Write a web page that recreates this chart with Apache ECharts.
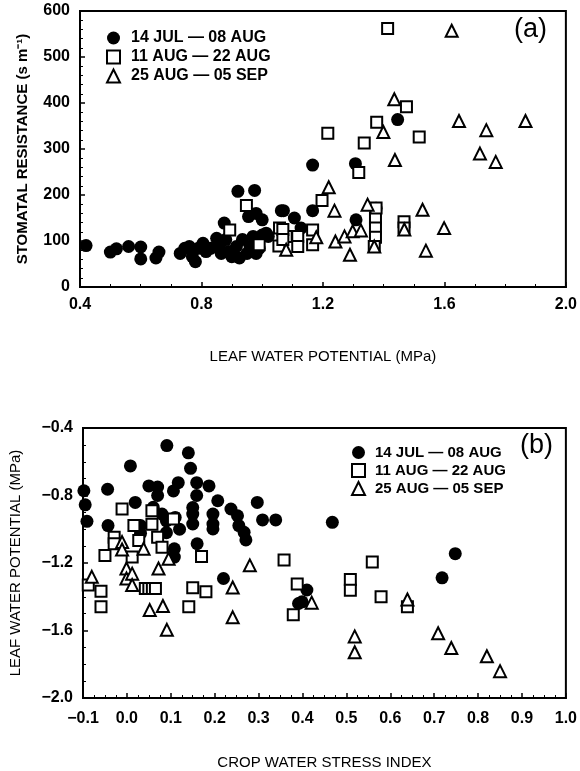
<!DOCTYPE html>
<html>
<head>
<meta charset="utf-8">
<script src="https://cdn.jsdelivr.net/npm/echarts@6/dist/echarts.min.js"></script>
<style>
	html, body { margin: 0; padding: 0; background: #fff; }
	#chart { width: 580px; height: 771px; }
</style>
</head>
<body>
<div id="chart"></div>
<script>
// series names (legend)
var names = ['14 JUL — 08 AUG', '11 AUG — 22 AUG', '25 AUG — 05 SEP'];

// panel (a): leaf water potential (MPa) vs stomatal resistance (s m-1)
var aJul = [
	[0.42, 90], [0.50, 76], [0.52, 83], [0.56, 88], [0.60, 87], [0.60, 61], [0.65, 63], [0.66, 76],
	[0.73, 73], [0.745, 84], [0.76, 88], [0.77, 66], [0.78, 55], [0.79, 84], [0.805, 95], [0.815, 77],
	[0.83, 84], [0.85, 106], [0.86, 92], [0.865, 73], [0.88, 103], [0.89, 77], [0.90, 66], [0.915, 88],
	[0.925, 63], [0.935, 103], [0.95, 73], [0.96, 88], [0.97, 110], [0.98, 73], [0.99, 84], [1.0, 113],
	[1.02, 110], [0.875, 139], [0.92, 208], [0.975, 210], [0.955, 153], [0.98, 160], [1.0, 146],
	[1.063, 166], [1.106, 150], [1.013, 117], [1.128, 128], [1.07, 166], [1.166, 166], [1.166, 265],
	[1.307, 268], [1.309, 146], [1.375, 171], [1.446, 364]
];
var aAug = [
	[0.893, 124], [0.948, 177], [0.99, 92], [1.057, 128], [1.055, 89], [1.079, 110], [1.068, 125],
	[1.068, 103], [1.117, 110], [1.117, 88], [1.166, 124], [1.166, 92], [1.197, 188], [1.216, 334],
	[1.318, 249], [1.336, 313], [1.377, 358], [1.413, 562], [1.475, 392], [1.517, 326], [1.373, 150],
	[1.373, 128], [1.373, 108], [1.369, 88], [1.375, 172], [1.467, 142], [1.467, 128]
];
var aSep = [
	[1.079, 81], [1.178, 108], [1.219, 217], [1.238, 166], [1.241, 99], [1.271, 110], [1.289, 70],
	[1.298, 121], [1.325, 123], [1.347, 179], [1.369, 88], [1.399, 337], [1.435, 408], [1.437, 276],
	[1.468, 125], [1.528, 168], [1.539, 79], [1.599, 128], [1.624, 557], [1.648, 361], [1.717, 290],
	[1.738, 341], [1.769, 272], [1.867, 361]
];

// panel (b): crop water stress index vs leaf water potential (MPa)
var bJul = [
	[-0.098, -0.772], [-0.095, -0.855], [-0.091, -0.953], [-0.044, -0.763], [-0.043, -0.978],
	[0.008, -0.625], [0.019, -0.841], [0.031, -0.978], [0.031, -1.024], [0.05, -0.743], [0.07, -0.75],
	[0.07, -0.80], [0.091, -0.504], [0.14, -0.547], [0.145, -0.639], [0.159, -0.724], [0.187, -0.743],
	[0.106, -0.773], [0.117, -0.724], [0.159, -0.80], [0.15, -0.871], [0.15, -0.91], [0.15, -0.969],
	[0.06, -0.87], [0.08, -0.91], [0.09, -0.95], [0.09, -1.02], [0.11, -0.93], [0.12, -1.0],
	[0.108, -1.116], [0.108, -1.165], [0.16, -1.086], [0.196, -0.91], [0.196, -0.969], [0.196, -0.998],
	[0.207, -0.831], [0.237, -0.88], [0.252, -0.92], [0.255, -0.978], [0.267, -1.018], [0.271, -1.063],
	[0.297, -0.841], [0.309, -0.945], [0.339, -0.945], [0.22, -1.292], [0.468, -0.959], [0.748, -1.145],
	[0.718, -1.288], [0.41, -1.36], [0.399, -1.43], [0.391, -1.44]
];
var bAug = [
	[-0.011, -0.88], [0.057, -0.89], [0.016, -0.978], [0.057, -0.97], [0.027, -1.067], [-0.029, -1.047],
	[-0.029, -1.086], [0.07, -1.047], [0.08, -1.106], [0.106, -0.939], [-0.05, -1.155], [0.012, -1.165],
	[0.17, -1.161], [-0.088, -1.331], [-0.059, -1.367], [-0.059, -1.459], [0.042, -1.351], [0.05, -1.351],
	[0.058, -1.351], [0.065, -1.351], [0.15, -1.347], [0.18, -1.371], [0.141, -1.459], [0.358, -1.182],
	[0.388, -1.325], [0.379, -1.506], [0.559, -1.194], [0.509, -1.298], [0.509, -1.361], [0.579, -1.40],
	[0.639, -1.459]
];
var bSep = [
	[-0.08, -1.282], [-0.011, -1.076], [-0.011, -1.12], [-0.001, -1.233], [-0.001, -1.292], [0.012, -1.263],
	[0.012, -1.331], [0.038, -1.116], [0.072, -1.233], [0.095, -1.175], [0.052, -1.479], [0.082, -1.455],
	[0.091, -1.596], [0.241, -1.345], [0.241, -1.522], [0.28, -1.214], [0.421, -1.435], [0.519, -1.635],
	[0.519, -1.729], [0.639, -1.416], [0.709, -1.616], [0.739, -1.704], [0.82, -1.753], [0.85, -1.841]
];

var font = 'Liberation Sans';
var tickLabel = { color: '#000', fontFamily: font, fontWeight: 'bold', fontSize: 16 };
var nameStyle = { color: '#000', fontFamily: font, fontSize: 15 };
var line = { show: true, onZero: false, lineStyle: { color: '#000', width: 2 } };

function fmt(v) {
	return v.toFixed(1).replace('-', '−');
}

function mk(name, grid, data, kind) {
	var s = {
		name: name,
		type: 'scatter',
		xAxisIndex: grid,
		yAxisIndex: grid,
		data: data,
		symbolSize: 13,
		itemStyle: { color: '#000', opacity: 1 }
	};
	if (kind == 'rect') {
		s.symbol = 'rect';
		s.symbolSize = 11;
		s.itemStyle = { color: '#fff', borderColor: '#000', borderWidth: 2, opacity: 1 };
	} else if (kind == 'triangle') {
		s.symbol = 'triangle';
		s.symbolSize = 12;
		s.itemStyle = { color: '#fff', borderColor: '#000', borderWidth: 2, opacity: 1 };
	} else {
		s.symbol = 'circle';
	}
	return s;
}

var chart = echarts.init(document.getElementById('chart'));
var option = {
	backgroundColor: '#fff',
	animation: false,
	grid: [
		{ left: 80, top: 11, right: 13, height: 276, show: true, borderColor: '#000', borderWidth: 2 },
		{ left: 82, top: 428, right: 10, height: 274, show: true, borderColor: '#000', borderWidth: 2 }
	],
	xAxis: [
		{
			gridIndex: 0, type: 'value', min: 0.4, max: 2.0, interval: 0.4,
			name: 'LEAF WATER POTENTIAL (MPa)', nameLocation: 'middle', nameGap: 62, nameTextStyle: nameStyle,
			axisLine: line, splitLine: { show: false },
			axisTick: { inside: true, length: 5, lineStyle: { color: '#000', width: 1.5 } },
			minorTick: { show: true, splitNumber: 4, length: 3, lineStyle: { color: '#000' } },
			axisLabel: Object.assign({ margin: 10, formatter: fmt }, tickLabel)
		},
		{
			gridIndex: 1, type: 'value', min: -0.1, max: 1.0, interval: 0.1,
			name: 'CROP WATER STRESS INDEX', nameLocation: 'middle', nameGap: 57, nameTextStyle: nameStyle,
			axisLine: line, splitLine: { show: false },
			axisTick: { inside: true, length: 5, lineStyle: { color: '#000', width: 1.5 } },
			minorTick: { show: true, splitNumber: 4, length: 3, lineStyle: { color: '#000' } },
			axisLabel: Object.assign({ margin: 13, formatter: fmt }, tickLabel)
		}
	],
	yAxis: [
		{
			gridIndex: 0, type: 'value', min: 0, max: 600, interval: 100,
			name: 'STOMATAL RESISTANCE (s m⁻¹)', nameLocation: 'middle', nameGap: 50,
			nameTextStyle: { color: '#000', fontFamily: font, fontSize: 15, fontWeight: 'bold' },
			axisLine: line, splitLine: { show: false },
			axisTick: { inside: true, length: 5, lineStyle: { color: '#000', width: 1.5 } },
			minorTick: { show: true, splitNumber: 5, length: 3, lineStyle: { color: '#000' } },
			axisLabel: Object.assign({ margin: 10 }, tickLabel)
		},
		{
			gridIndex: 1, type: 'value', min: -2.0, max: -0.4, interval: 0.4,
			name: 'LEAF WATER POTENTIAL (MPa)', nameLocation: 'middle', nameGap: 60, nameTextStyle: nameStyle,
			axisLine: line, splitLine: { show: false },
			axisTick: { inside: true, length: 5, lineStyle: { color: '#000', width: 1.5 } },
			minorTick: { show: true, splitNumber: 4, length: 3, lineStyle: { color: '#000' } },
			axisLabel: Object.assign({ margin: 10, formatter: fmt }, tickLabel)
		}
	],
	legend: [
		{
			left: 101, top: 25, orient: 'vertical', itemWidth: 13, itemHeight: 13, itemGap: 3,
			data: names, selectedMode: false,
			textStyle: { color: '#000', fontFamily: font, fontWeight: 'bold', fontSize: 16, padding: [0, 0, 0, 6] }
		},
		{
			left: 346, top: 440, orient: 'vertical', itemWidth: 13, itemHeight: 13, itemGap: 3,
			data: names, selectedMode: false,
			textStyle: { color: '#000', fontFamily: font, fontWeight: 'bold', fontSize: 15, padding: [0, 0, 0, 5] }
		}
	],
	graphic: [
		{ type: 'text', left: 514, top: 16, style: { text: '(a)', font: '27px ' + font, fill: '#000' } },
		{ type: 'text', left: 520, top: 432, style: { text: '(b)', font: '27px ' + font, fill: '#000' } }
	],
	series: [
		mk(names[0], 0, aJul, 'circle'),
		mk(names[1], 0, aAug, 'rect'),
		mk(names[2], 0, aSep, 'triangle'),
		mk(names[0], 1, bJul, 'circle'),
		mk(names[1], 1, bAug, 'rect'),
		mk(names[2], 1, bSep, 'triangle')
	]
};
chart.setOption(option);
</script>
</body>
</html>
